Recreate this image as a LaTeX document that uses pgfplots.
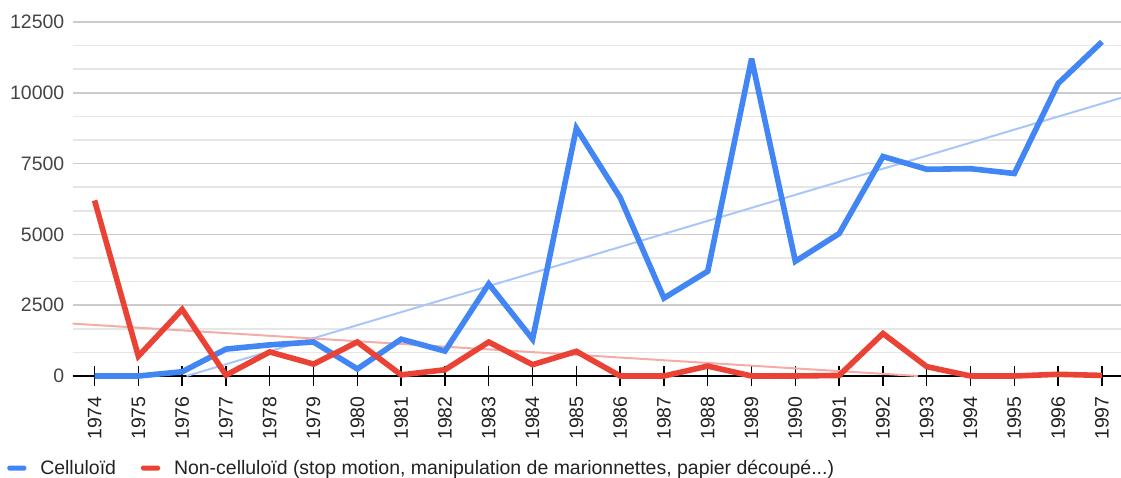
\documentclass[border=0pt]{standalone}
\usepackage{fontspec}
\setmainfont{Liberation Sans}
\usepackage{pgfplots}
\pgfplotsset{compat=1.18}
\definecolor{gblue}{HTML}{4285F4}
\definecolor{gred}{HTML}{EA4335}
\definecolor{gblueT}{HTML}{A9C6FA}
\definecolor{gredT}{HTML}{F5ACA6}
\definecolor{gridmaj}{HTML}{CCCCCC}
\definecolor{gridmin}{HTML}{E6E6E6}
\definecolor{lbl}{HTML}{444444}
\definecolor{txt}{HTML}{222222}
\newcommand{\chartfont}{\fontsize{14.6}{17}\selectfont}
\begin{document}
\begin{tikzpicture}
\useasboundingbox (0,0) rectangle (840.75pt,358.5pt);
\begin{axis}[
  at={(54.5pt,76.5pt)}, anchor=south west,
  scale only axis, width=788.4pt, height=265.5pt,
  xmin=1973.5, xmax=1997.5, ymin=0, ymax=12500,
  clip=false, no markers,
  axis x line*=bottom, axis y line*=left,
  x axis line style={black, line width=1.1pt},
  y axis line style={draw=none},
  xtick={1974,...,1997},
  ytick={0,2500,...,12500},
  minor y tick num=2,
  ymajorgrids, yminorgrids,
  major grid style={gridmaj, line width=1.1pt},
  minor grid style={gridmin, line width=1.1pt},
  ytick style={draw=none}, minor y tick style={draw=none},
  xtick style={black, line width=1.1pt},
  tick align=center,
  major tick length=14.25pt,
  scaled y ticks=false,
  /pgf/number format/1000 sep={},
  /pgf/number format/assume math mode=true,
  xticklabel shift=8pt,
  xticklabel style={rotate=90, anchor=east, inner sep=0pt, font=\chartfont, text=txt},
  yticklabel style={anchor=east, inner sep=0pt, xshift=1pt, font=\chartfont, text=lbl},
  legend columns=2,
  legend style={at={(-0.0622,-0.26)}, anchor=west, draw=none, fill=none,
    inner sep=0pt, outer sep=0pt, font=\chartfont, text=txt,
    nodes={inner sep=0pt},
    /tikz/every odd column/.append style={column sep=10.5pt},
    /tikz/every even column/.append style={column sep=18.75pt}},
  legend image code/.code={\fill[#1, draw=none, rounded corners=1.2pt] (0pt,-1.9pt) rectangle (14.25pt,1.9pt);},
]
% trendlines
\addplot[gblueT, line width=1.5pt, forget plot] coordinates {(1976.1,0) (1997.5,9850)};
\addplot[gredT, line width=1.5pt, forget plot] coordinates {(1973.5,1850) (1992.8,0)};
% Celluloid
\addplot[gblue, line width=4.2pt, miter limit=4] coordinates {
(1974,0) (1975,0) (1976,150) (1977,950) (1978,1100) (1979,1200) (1980,250)
(1981,1300) (1982,880) (1983,3250) (1984,1300) (1985,8750) (1986,6300)
(1987,2750) (1988,3700) (1989,11200) (1990,4050) (1991,5030) (1992,7750)
(1993,7300) (1994,7320) (1995,7150) (1996,10330) (1997,11800)};
\addlegendentry{Celluloïd}
% Non-celluloid
\addplot[gred, line width=4.2pt, miter limit=4] coordinates {
(1974,6200) (1975,700) (1976,2350) (1977,30) (1978,850) (1979,420) (1980,1200)
(1981,40) (1982,220) (1983,1200) (1984,400) (1985,870) (1986,0) (1987,0)
(1988,350) (1989,0) (1990,0) (1991,20) (1992,1500) (1993,330) (1994,0)
(1995,0) (1996,60) (1997,20)};
\addlegendentry{Non-celluloïd (stop motion, manipulation de marionnettes, papier découpé...)}
\end{axis}
\end{tikzpicture}
\end{document}
